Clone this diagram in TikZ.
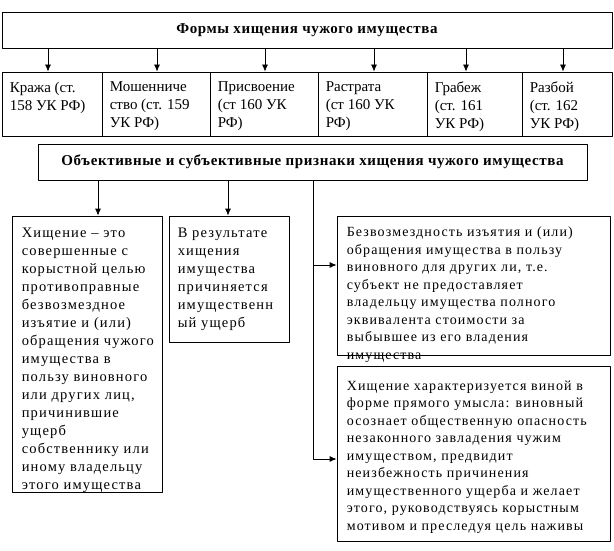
\documentclass[tikz,border=0pt]{standalone}
\usepackage{fontspec}
\setmainfont{Liberation Serif}
\newfontfamily\widefont[LetterSpace=8]{Liberation Serif}
\newfontfamily\densefont[LetterSpace=8]{Liberation Serif}
\newfontfamily\headfont[LetterSpace=4]{Liberation Serif}
\usetikzlibrary{arrows.meta}

\begin{document}
\begin{tikzpicture}[x=1pt,y=-1pt,join=round,>={Latex[length=7pt,width=6pt]}]
    \tikzstyle{box} = [draw,line width=.8pt,inner sep=0pt,rectangle]
    \tikzstyle{head} = [box,font=\headfont\bfseries\fontsize{15}{17}\selectfont]
    \tikzstyle{cell} = [anchor=north west,inner sep=0pt,align=left,
                        font=\fontsize{15}{18}\selectfont]
    \tikzstyle{wide} = [anchor=north west,inner sep=0pt,align=left,
                        font=\widefont\fontsize{14.5}{18}\selectfont]
    \tikzstyle{dense} = [anchor=north west,inner sep=0pt,align=left,
                        font=\densefont\fontsize{14}{17.5}\selectfont]
    \tikzstyle{arr} = [draw,line width=.8pt,arrows=->]
    \useasboundingbox (0,0) rectangle (614,551);
    % forms of theft
    \node[head,minimum width=610,minimum height=36] (forms) at (307,30)
        {Формы хищения чужого имущества};
    \node[box,minimum width=100,minimum height=64] (kr) at (52,104) {};
    \node[box,minimum width=108,minimum height=64] (mosh) at (156,104) {};
    \node[box,minimum width=108,minimum height=64] (prisv) at (264,104) {};
    \node[box,minimum width=109,minimum height=64] (rastr) at (372.5,104) {};
    \node[box,minimum width=95,minimum height=64] (grab) at (474.5,104) {};
    \node[box,minimum width=90,minimum height=64] (razb) at (567,104) {};
    \node[cell] (kr-t) at ([shift={(8,10)}]kr.north west)
        {Кража (ст.\\158 УК РФ)};
    \node[cell] (mosh-t) at ([shift={(8,10)}]mosh.north west)
        {Мошенниче\\ство (ст. 159\\УК РФ)};
    \node[cell] (prisv-t) at ([shift={(8,10)}]prisv.north west)
        {Присвоение\\(ст 160 УК\\РФ)};
    \node[cell] (rastr-t) at ([shift={(8,10)}]rastr.north west)
        {Растрата\\(ст 160 УК\\РФ)};
    \node[cell] (grab-t) at ([shift={(8,10)}]grab.north west)
        {Грабеж\\(ст. 161\\УК РФ)};
    \node[cell] (razb-t) at ([shift={(8,10)}]razb.north west)
        {Разбой\\(ст. 162\\УК РФ)};
    \foreach \b/\x in {kr/48,mosh/157,prisv/265,rastr/374,grab/466,razb/563}
        \draw[arr] (forms.south -| \x,0) -- (\b.north -| \x,0);
    % signs of theft
    \node[head,minimum width=549,minimum height=36] (signs) at (312.5,162)
        {Объективные и субъективные признаки хищения чужого имущества};
    \node[box,minimum width=150,minimum height=276] (def) at (87,354) {};
    \node[box,minimum width=120,minimum height=126] (dmg) at (229,279) {};
    \node[box,minimum width=273,minimum height=139] (free) at (473.5,285.5) {};
    \node[box,minimum width=273,minimum height=175] (intent) at (473.5,453.5) {};
    \node[wide] (def-t) at ([shift={(10,12)}]def.north west)
        {Хищение – это\\совершенные с\\корыстной целью\\противоправные\\
         безвозмездное\\изъятие и (или)\\обращения чужого\\имущества в\\
         пользу виновного\\или других лиц,\\причинившие\\ущерб\\
         собственнику или\\иному владельцу\\этого имущества};
    \node[wide] (dmg-t) at ([shift={(9,12)}]dmg.north west)
        {В результате\\хищения\\имущества\\причиняется\\имущественн\\ый ущерб};
    \node[dense] (free-t) at ([shift={(10,11)}]free.north west)
        {Безвозмездность изъятия и (или)\\обращения имущества в пользу\\
         виновного для других ли, т.е.\\субъект не предоставляет\\
         владельцу имущества полного\\эквивалента стоимости за\\
         выбывшее из его владения\\имущества};
    \node[dense] (intent-t) at ([shift={(10,15)}]intent.north west)
        {Хищение характеризуется виной в\\форме прямого умысла: виновный\\
         осознает общественную опасность\\незаконного завладения чужим\\
         имуществом, предвидит\\неизбежность причинения\\
         имущественного ущерба и желает\\этого, руководствуясь корыстным\\
         мотивом и преследуя цель наживы};
    \draw[arr] (signs.south -| 98,0) -- (def.north -| 98,0);
    \draw[arr] (signs.south -| 228,0) -- (dmg.north -| 228,0);
    \coordinate (trunk) at (313,265);
    \draw[arr] (signs.south -| trunk) |- (intent.west |- 0,459);
    \draw[arr] (trunk) -- (free.west |- trunk);
\end{tikzpicture}
\end{document}
